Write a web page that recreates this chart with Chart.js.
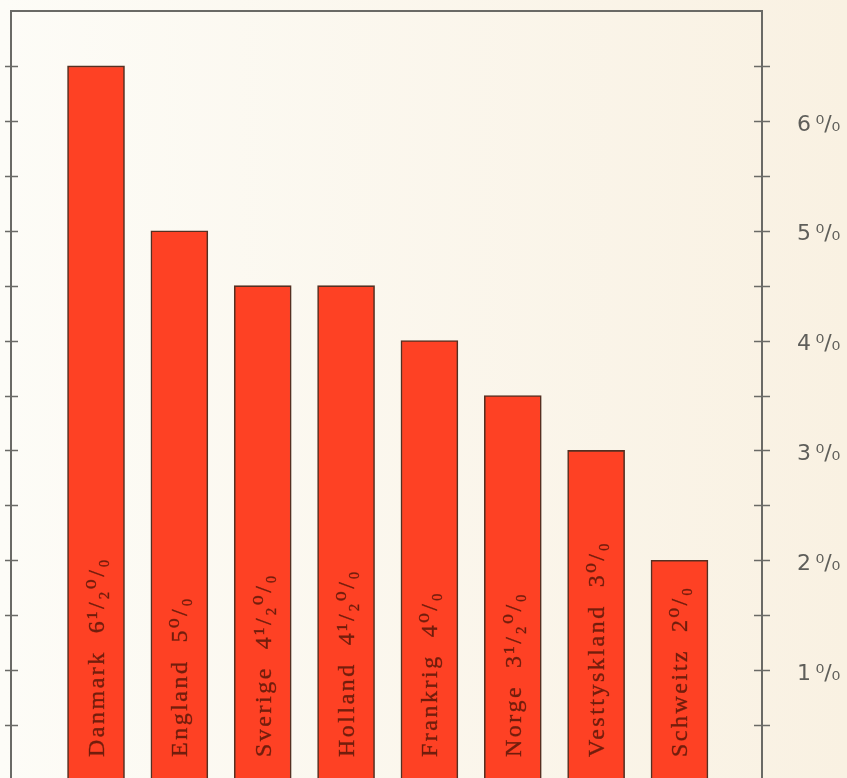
<!DOCTYPE html>
<html>
<head>
<meta charset="utf-8">
<script src="https://cdn.jsdelivr.net/npm/chart.js@4"></script>
<style>
  html, body { margin: 0; padding: 0; background: #fcf9f1; overflow: hidden; }
  #wrap { width: 847px; height: 780px; }
</style>
</head>
<body>
<div id="wrap"><canvas id="chart"></canvas></div>
<script>
// data
const countries = ['Danmark', 'England', 'Sverige', 'Holland', 'Frankrig', 'Norge', 'Vesttyskland', 'Schweitz'];
const rates = [6.5, 5, 4.5, 4.5, 4, 3.5, 3, 2];
const rateLabels = ['6\u00B9/\u2082\u2070/\u2080', '5\u2070/\u2080', '4\u00B9/\u2082\u2070/\u2080', '4\u00B9/\u2082\u2070/\u2080',
                    '4\u2070/\u2080', '3\u00B9/\u2082\u2070/\u2080', '3\u2070/\u2080', '2\u2070/\u2080'];
const axisLabels = { 1: '1\u2009\u2070/\u2080', 2: '2\u2009\u2070/\u2080', 3: '3\u2009\u2070/\u2080',
                     4: '4\u2009\u2070/\u2080', 5: '5\u2009\u2070/\u2080', 6: '6\u2009\u2070/\u2080' };

const points = rates.map((v, i) => ({ x: i, y: v }));

const axisColor = '#6a6a66';

// paper background
const paperPlugin = {
    id: 'paper',
    beforeDraw(chart) {
        const { ctx, width, height } = chart;
        const g = ctx.createLinearGradient(0, 0, width, 0);
        g.addColorStop(0, '#fdfcf7');
        g.addColorStop(1, '#f9f1e2');
        ctx.save();
        ctx.fillStyle = g;
        ctx.fillRect(0, 0, width, height);
        ctx.restore();
    }
};

// frame on three sides, ticks crossing the left and right lines
const framePlugin = {
    id: 'frame',
    afterDatasetsDraw(chart) {
        const { ctx, chartArea: a } = chart;
        const y = chart.scales.y;
        ctx.save();
        ctx.strokeStyle = axisColor;
        ctx.lineWidth = 2;
        ctx.beginPath();
        ctx.moveTo(a.left, a.bottom + 5);
        ctx.lineTo(a.left, a.top);
        ctx.lineTo(a.right, a.top);
        ctx.lineTo(a.right, a.bottom + 5);
        ctx.stroke();
        ctx.lineWidth = 1.6;
        y.ticks.forEach(t => {
            if (t.value <= 0 || t.value >= 7) return;
            const py = Math.round(y.getPixelForValue(t.value)) + 0.5;
            ctx.beginPath();
            ctx.moveTo(a.left - 6, py);
            ctx.lineTo(a.left + 7, py);
            ctx.moveTo(a.right - 8, py);
            ctx.lineTo(a.right + 8, py);
            ctx.stroke();
        });
        ctx.restore();
    }
};

// rotated country labels at the foot of each bar
const barTextPlugin = {
    id: 'barText',
    afterDatasetsDraw(chart) {
        const { ctx } = chart;
        const meta = chart.getDatasetMeta(0);
        ctx.save();
        ctx.font = '24px "Liberation Serif", "DejaVu Serif", serif';
        ctx.letterSpacing = '2.5px';
        ctx.fillStyle = 'rgba(95, 25, 10, 0.88)';
        ctx.strokeStyle = 'rgba(95, 25, 10, 0.6)';
        ctx.lineWidth = 0.5;
        ctx.textAlign = 'left';
        ctx.textBaseline = 'alphabetic';
        meta.data.forEach((bar, i) => {
            ctx.save();
            ctx.translate(bar.x + 8, 757);
            ctx.rotate(-Math.PI / 2);
            const s = countries[i] + '  ' + rateLabels[i];
            ctx.fillText(s, 0, 0);
            ctx.strokeText(s, 0, 0);
            ctx.restore();
        });
        ctx.restore();
    }
};

new Chart(document.getElementById('chart'), {
    type: 'bar',
    data: {
        datasets: [{
            data: points,
            backgroundColor: '#fe4124',
            borderColor: '#553022',
            borderWidth: 1.6,
            borderSkipped: false,
            barThickness: 57
        }]
    },
    options: {
        responsive: true,
        maintainAspectRatio: false,
        animation: false,
        layout: { padding: { left: 11, top: 11, right: 0, bottom: 0 } },
        plugins: {
            legend: { display: false },
            tooltip: { enabled: false }
        },
        scales: {
            x: {
                type: 'linear',
                offset: false,
                min: -1.02,
                max: 7.99,
                display: false
            },
            y: {
                position: 'right',
                min: 0,
                max: 7,
                afterFit(scale) {
                    scale.width = 85;
                    scale.paddingTop = 0;
                    scale.paddingBottom = 0;
                },
                border: { display: false },
                grid: { drawOnChartArea: false, drawTicks: false },
                ticks: {
                    stepSize: 0.5,
                    padding: 35,
                    labelOffset: 4,
                    color: '#5e5e5a',
                    font: { family: '"DejaVu Sans", sans-serif', size: 22 },
                    callback: v => axisLabels[v] || ''
                }
            }
        }
    },
    plugins: [paperPlugin, framePlugin, barTextPlugin]
});
</script>
</body>
</html>
